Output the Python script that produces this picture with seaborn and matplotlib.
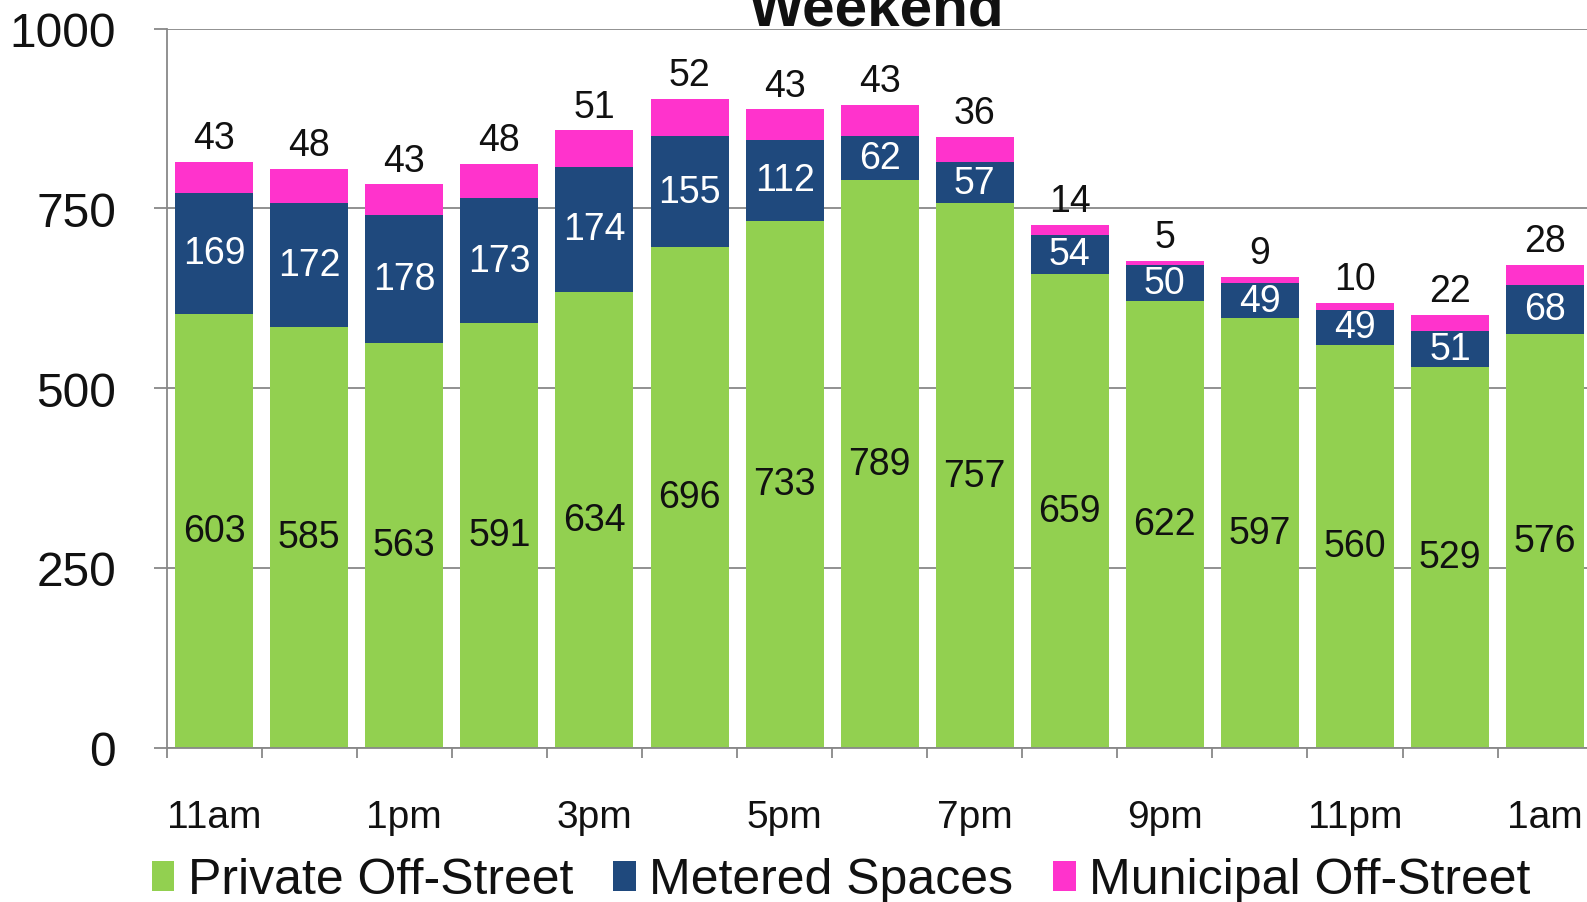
import matplotlib
matplotlib.use('Agg')
import matplotlib.pyplot as plt
import seaborn as sns
import pandas as pd
import numpy as np

# =========================
# Data
# =========================
hours = ['11am', '12pm', '1pm', '2pm', '3pm', '4pm', '5pm', '6pm',
         '7pm', '8pm', '9pm', '10pm', '11pm', '12am', '1am']
private = [603, 585, 563, 591, 634, 696, 733, 789, 757, 659, 622, 597, 560, 529, 576]
metered = [169, 172, 178, 173, 174, 155, 112, 62, 57, 54, 50, 49, 49, 51, 68]
municipal = [43, 48, 43, 48, 51, 52, 43, 43, 36, 14, 5, 9, 10, 22, 28]

series_names = ['Private Off-Street', 'Metered Spaces', 'Municipal Off-Street']
colors = ['#92D050', '#1F497D', '#FF33CC']

df = pd.DataFrame({'hour': hours,
                   'Private Off-Street': private,
                   'Metered Spaces': metered,
                   'Municipal Off-Street': municipal})

sns.set_style('white')
plt.rcParams['font.family'] = ['Liberation Sans', 'DejaVu Sans']
plt.rcParams['text.color'] = '#111111'

fig = plt.figure(figsize=(15.87, 9.03), dpi=100)
ax = fig.add_axes([0.105, 0.171, 0.895, 0.796])

# =========================
# Stacked bars
# =========================
bottom = np.zeros(len(hours))
for name, col in zip(series_names, colors):
    sns.barplot(data=df, x='hour', y=name, order=hours, color=col, saturation=1,
                bottom=bottom, width=0.82, errorbar=None, label=name,
                linewidth=0, ax=ax)
    bottom = bottom + df[name].to_numpy()

if ax.legend_ is not None:
    ax.legend_.remove()

c_priv, c_met, c_mun = ax.containers[:3]
ax.bar_label(c_priv, labels=private, label_type='center', fontsize=27, color='#111111')
ax.bar_label(c_met, labels=metered, label_type='center', fontsize=27, color='white')
ax.bar_label(c_mun, labels=municipal, label_type='edge', padding=4, fontsize=27, color='#111111')

# =========================
# Axes styling
# =========================
ax.set_xlim(-0.5, 14.44)
ax.set_ylim(0, 1000)
ax.set_xticks(range(0, len(hours), 2), hours[::2])
ax.set_xticks(np.arange(-0.5, len(hours) - 0.5, 1), minor=True)
ax.set_yticks([0, 250, 500, 750, 1000])
ax.tick_params(axis='x', which='major', length=0, pad=37, labelsize=28, labelcolor='#111111')
ax.tick_params(axis='x', which='minor', bottom=True, length=7, width=1.3,
               color='#888888', direction='out')
ax.tick_params(axis='y', left=True, length=9.5, width=1.3, color='#888888',
               pad=27, labelsize=34.5, labelcolor='#111111')
ax.yaxis.grid(True, color='#888888', linewidth=1.3)
ax.set_axisbelow(True)
ax.set_xlabel('')
ax.set_ylabel('')
for s in ['top', 'right']:
    ax.spines[s].set_visible(False)
for s in ['left', 'bottom']:
    ax.spines[s].set_color('#888888')
    ax.spines[s].set_linewidth(1.3)

ax.set_title('Weekend', fontsize=42, fontweight='bold', pad=3, color='#111111')

handles, labels = ax.get_legend_handles_labels()
fig.legend(handles, labels, loc='center', bbox_to_anchor=(0.53, 0.024), ncol=3,
           frameon=False, fontsize=36, handlelength=0.45, handleheight=0.55,
           handletextpad=0.27, columnspacing=0.8, borderaxespad=0,
           labelcolor='#111111')

fig.savefig('out.png', dpi=100)
